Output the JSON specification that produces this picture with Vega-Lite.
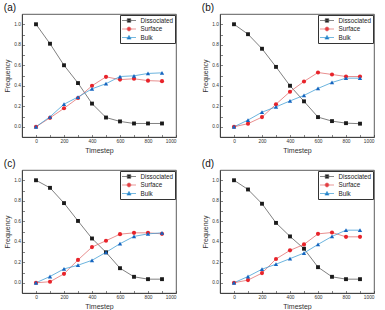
{
  "$schema": "https://vega.github.io/schema/vega-lite/v6.json",
  "padding": {"left": 3, "top": 2, "right": 0, "bottom": 0},
  "data": {"values": [
    {"p":"a","s":"Dissociated","t":0,"v":1.0},{"p":"a","s":"Dissociated","t":100,"v":0.81},{"p":"a","s":"Dissociated","t":200,"v":0.60},{"p":"a","s":"Dissociated","t":300,"v":0.426},{"p":"a","s":"Dissociated","t":400,"v":0.226},{"p":"a","s":"Dissociated","t":500,"v":0.09},{"p":"a","s":"Dissociated","t":600,"v":0.052},{"p":"a","s":"Dissociated","t":700,"v":0.032},{"p":"a","s":"Dissociated","t":800,"v":0.032},{"p":"a","s":"Dissociated","t":900,"v":0.032},
    {"p":"a","s":"Surface","t":0,"v":0.0},{"p":"a","s":"Surface","t":100,"v":0.087},{"p":"a","s":"Surface","t":200,"v":0.18},{"p":"a","s":"Surface","t":300,"v":0.28},{"p":"a","s":"Surface","t":400,"v":0.40},{"p":"a","s":"Surface","t":500,"v":0.487},{"p":"a","s":"Surface","t":600,"v":0.46},{"p":"a","s":"Surface","t":700,"v":0.468},{"p":"a","s":"Surface","t":800,"v":0.45},{"p":"a","s":"Surface","t":900,"v":0.445},
    {"p":"a","s":"Bulk","t":0,"v":0.0},{"p":"a","s":"Bulk","t":100,"v":0.097},{"p":"a","s":"Bulk","t":200,"v":0.22},{"p":"a","s":"Bulk","t":300,"v":0.29},{"p":"a","s":"Bulk","t":400,"v":0.37},{"p":"a","s":"Bulk","t":500,"v":0.42},{"p":"a","s":"Bulk","t":600,"v":0.49},{"p":"a","s":"Bulk","t":700,"v":0.497},{"p":"a","s":"Bulk","t":800,"v":0.52},{"p":"a","s":"Bulk","t":900,"v":0.526},
    {"p":"b","s":"Dissociated","t":0,"v":1.0},{"p":"b","s":"Dissociated","t":100,"v":0.903},{"p":"b","s":"Dissociated","t":200,"v":0.761},{"p":"b","s":"Dissociated","t":300,"v":0.584},{"p":"b","s":"Dissociated","t":400,"v":0.40},{"p":"b","s":"Dissociated","t":500,"v":0.248},{"p":"b","s":"Dissociated","t":600,"v":0.094},{"p":"b","s":"Dissociated","t":700,"v":0.055},{"p":"b","s":"Dissociated","t":800,"v":0.035},{"p":"b","s":"Dissociated","t":900,"v":0.03},
    {"p":"b","s":"Surface","t":0,"v":0.0},{"p":"b","s":"Surface","t":100,"v":0.03},{"p":"b","s":"Surface","t":200,"v":0.094},{"p":"b","s":"Surface","t":300,"v":0.22},{"p":"b","s":"Surface","t":400,"v":0.342},{"p":"b","s":"Surface","t":500,"v":0.442},{"p":"b","s":"Surface","t":600,"v":0.529},{"p":"b","s":"Surface","t":700,"v":0.51},{"p":"b","s":"Surface","t":800,"v":0.49},{"p":"b","s":"Surface","t":900,"v":0.49},
    {"p":"b","s":"Bulk","t":0,"v":0.0},{"p":"b","s":"Bulk","t":100,"v":0.065},{"p":"b","s":"Bulk","t":200,"v":0.142},{"p":"b","s":"Bulk","t":300,"v":0.194},{"p":"b","s":"Bulk","t":400,"v":0.252},{"p":"b","s":"Bulk","t":500,"v":0.306},{"p":"b","s":"Bulk","t":600,"v":0.374},{"p":"b","s":"Bulk","t":700,"v":0.432},{"p":"b","s":"Bulk","t":800,"v":0.474},{"p":"b","s":"Bulk","t":900,"v":0.474},
    {"p":"c","s":"Dissociated","t":0,"v":1.0},{"p":"c","s":"Dissociated","t":100,"v":0.926},{"p":"c","s":"Dissociated","t":200,"v":0.777},{"p":"c","s":"Dissociated","t":300,"v":0.603},{"p":"c","s":"Dissociated","t":400,"v":0.432},{"p":"c","s":"Dissociated","t":500,"v":0.297},{"p":"c","s":"Dissociated","t":600,"v":0.142},{"p":"c","s":"Dissociated","t":700,"v":0.058},{"p":"c","s":"Dissociated","t":800,"v":0.035},{"p":"c","s":"Dissociated","t":900,"v":0.035},
    {"p":"c","s":"Surface","t":0,"v":0.0},{"p":"c","s":"Surface","t":100,"v":0.01},{"p":"c","s":"Surface","t":200,"v":0.087},{"p":"c","s":"Surface","t":300,"v":0.223},{"p":"c","s":"Surface","t":400,"v":0.348},{"p":"c","s":"Surface","t":500,"v":0.41},{"p":"c","s":"Surface","t":600,"v":0.474},{"p":"c","s":"Surface","t":700,"v":0.487},{"p":"c","s":"Surface","t":800,"v":0.487},{"p":"c","s":"Surface","t":900,"v":0.477},
    {"p":"c","s":"Bulk","t":0,"v":0.0},{"p":"c","s":"Bulk","t":100,"v":0.061},{"p":"c","s":"Bulk","t":200,"v":0.135},{"p":"c","s":"Bulk","t":300,"v":0.171},{"p":"c","s":"Bulk","t":400,"v":0.219},{"p":"c","s":"Bulk","t":500,"v":0.297},{"p":"c","s":"Bulk","t":600,"v":0.381},{"p":"c","s":"Bulk","t":700,"v":0.452},{"p":"c","s":"Bulk","t":800,"v":0.477},{"p":"c","s":"Bulk","t":900,"v":0.487},
    {"p":"d","s":"Dissociated","t":0,"v":1.0},{"p":"d","s":"Dissociated","t":100,"v":0.91},{"p":"d","s":"Dissociated","t":200,"v":0.771},{"p":"d","s":"Dissociated","t":300,"v":0.584},{"p":"d","s":"Dissociated","t":400,"v":0.452},{"p":"d","s":"Dissociated","t":500,"v":0.332},{"p":"d","s":"Dissociated","t":600,"v":0.152},{"p":"d","s":"Dissociated","t":700,"v":0.058},{"p":"d","s":"Dissociated","t":800,"v":0.035},{"p":"d","s":"Dissociated","t":900,"v":0.035},
    {"p":"d","s":"Surface","t":0,"v":0.0},{"p":"d","s":"Surface","t":100,"v":0.026},{"p":"d","s":"Surface","t":200,"v":0.094},{"p":"d","s":"Surface","t":300,"v":0.232},{"p":"d","s":"Surface","t":400,"v":0.316},{"p":"d","s":"Surface","t":500,"v":0.374},{"p":"d","s":"Surface","t":600,"v":0.477},{"p":"d","s":"Surface","t":700,"v":0.49},{"p":"d","s":"Surface","t":800,"v":0.448},{"p":"d","s":"Surface","t":900,"v":0.448},
    {"p":"d","s":"Bulk","t":0,"v":0.0},{"p":"d","s":"Bulk","t":100,"v":0.061},{"p":"d","s":"Bulk","t":200,"v":0.132},{"p":"d","s":"Bulk","t":300,"v":0.181},{"p":"d","s":"Bulk","t":400,"v":0.235},{"p":"d","s":"Bulk","t":500,"v":0.29},{"p":"d","s":"Bulk","t":600,"v":0.374},{"p":"d","s":"Bulk","t":700,"v":0.452},{"p":"d","s":"Bulk","t":800,"v":0.513},{"p":"d","s":"Bulk","t":900,"v":0.513}
  ]},
  "columns": 2,
  "spacing": {"row": 4, "column": 24},
  "resolve": {"legend": {"stroke": "independent"}},
  "concat": [
    {"title": "(a)", "width": 154, "height": 123, "transform": [{"filter": "datum.p == 'a'"}],
     "encoding": {
       "x": {"field": "t", "type": "quantitative", "scale": {"domain": [-100, 1000], "nice": false, "zero": false}, "axis": {"title": "Timestep", "values": [0,100,200,300,400,500,600,700,800,900,1000], "format": "d", "labelExpr": "datum.value % 200 == 0 ? datum.label : ''"}},
       "y": {"field": "v", "type": "quantitative", "scale": {"domain": [-0.1, 1.1], "nice": false, "zero": false}, "axis": {"title": "Frequency", "values": [0,0.1,0.2,0.3,0.4,0.5,0.6,0.7,0.8,0.9,1.0], "format": ".1f", "labelExpr": "round(datum.value*10) % 2 == 0 ? datum.label : ''"}}
     },
     "layer": [
       {"mark": {"type": "line", "strokeWidth": 0.75}, "encoding": {"stroke": {"field": "s", "type": "nominal", "scale": {"domain": ["Dissociated","Surface","Bulk"], "range": ["#555555","#e06a6a","#3b9bd3"]},
         "legend": {"title": null, "orient": "top-right", "offset": 1,
           "encode": {"symbols": {"update": {
             "shape": {"signal": "datum.value == 'Dissociated' ? 'M-2,0H2M-0.5,-0.5H0.5V0.5H-0.5Z' : datum.value == 'Surface' ? 'M-2,0H2M0.55,0A0.55,0.55 0 1 1 -0.55,0A0.55,0.55 0 1 1 0.55,0Z' : 'M-2,0H2M0,-0.6L0.6,0.45H-0.6Z'"},
             "fill": {"signal": "datum.value == 'Dissociated' ? '#1a1a1a' : datum.value == 'Surface' ? '#e8232a' : '#1565c0'"}}}}}}}},
       {"transform": [{"filter": "datum.s == 'Dissociated'"}], "mark": {"type": "point", "shape": "square", "filled": true, "size": 15, "color": "#1a1a1a", "opacity": 1}},
       {"transform": [{"filter": "datum.s == 'Surface'"}], "mark": {"type": "point", "shape": "circle", "filled": true, "size": 17, "color": "#e8232a", "opacity": 1}},
       {"transform": [{"filter": "datum.s == 'Bulk'"}], "mark": {"type": "point", "shape": "triangle-up", "filled": true, "size": 19, "color": "#1565c0", "opacity": 1}}
     ]},
    {"title": "(b)", "width": 154, "height": 123, "transform": [{"filter": "datum.p == 'b'"}],
     "encoding": {
       "x": {"field": "t", "type": "quantitative", "scale": {"domain": [-100, 1000], "nice": false, "zero": false}, "axis": {"title": "Timestep", "values": [0,100,200,300,400,500,600,700,800,900,1000], "format": "d", "labelExpr": "datum.value % 200 == 0 ? datum.label : ''"}},
       "y": {"field": "v", "type": "quantitative", "scale": {"domain": [-0.1, 1.1], "nice": false, "zero": false}, "axis": {"title": "Frequency", "values": [0,0.1,0.2,0.3,0.4,0.5,0.6,0.7,0.8,0.9,1.0], "format": ".1f", "labelExpr": "round(datum.value*10) % 2 == 0 ? datum.label : ''"}}
     },
     "layer": [
       {"mark": {"type": "line", "strokeWidth": 0.75}, "encoding": {"stroke": {"field": "s", "type": "nominal", "scale": {"domain": ["Dissociated","Surface","Bulk"], "range": ["#555555","#e06a6a","#3b9bd3"]},
         "legend": {"title": null, "orient": "top-right", "offset": 1,
           "encode": {"symbols": {"update": {
             "shape": {"signal": "datum.value == 'Dissociated' ? 'M-2,0H2M-0.5,-0.5H0.5V0.5H-0.5Z' : datum.value == 'Surface' ? 'M-2,0H2M0.55,0A0.55,0.55 0 1 1 -0.55,0A0.55,0.55 0 1 1 0.55,0Z' : 'M-2,0H2M0,-0.6L0.6,0.45H-0.6Z'"},
             "fill": {"signal": "datum.value == 'Dissociated' ? '#1a1a1a' : datum.value == 'Surface' ? '#e8232a' : '#1565c0'"}}}}}}}},
       {"transform": [{"filter": "datum.s == 'Dissociated'"}], "mark": {"type": "point", "shape": "square", "filled": true, "size": 15, "color": "#1a1a1a", "opacity": 1}},
       {"transform": [{"filter": "datum.s == 'Surface'"}], "mark": {"type": "point", "shape": "circle", "filled": true, "size": 17, "color": "#e8232a", "opacity": 1}},
       {"transform": [{"filter": "datum.s == 'Bulk'"}], "mark": {"type": "point", "shape": "triangle-up", "filled": true, "size": 19, "color": "#1565c0", "opacity": 1}}
     ]},
    {"title": "(c)", "width": 154, "height": 123, "transform": [{"filter": "datum.p == 'c'"}],
     "encoding": {
       "x": {"field": "t", "type": "quantitative", "scale": {"domain": [-100, 1000], "nice": false, "zero": false}, "axis": {"title": "Timestep", "values": [0,100,200,300,400,500,600,700,800,900,1000], "format": "d", "labelExpr": "datum.value % 200 == 0 ? datum.label : ''"}},
       "y": {"field": "v", "type": "quantitative", "scale": {"domain": [-0.1, 1.1], "nice": false, "zero": false}, "axis": {"title": "Frequency", "values": [0,0.1,0.2,0.3,0.4,0.5,0.6,0.7,0.8,0.9,1.0], "format": ".1f", "labelExpr": "round(datum.value*10) % 2 == 0 ? datum.label : ''"}}
     },
     "layer": [
       {"mark": {"type": "line", "strokeWidth": 0.75}, "encoding": {"stroke": {"field": "s", "type": "nominal", "scale": {"domain": ["Dissociated","Surface","Bulk"], "range": ["#555555","#e06a6a","#3b9bd3"]},
         "legend": {"title": null, "orient": "top-right", "offset": 1,
           "encode": {"symbols": {"update": {
             "shape": {"signal": "datum.value == 'Dissociated' ? 'M-2,0H2M-0.5,-0.5H0.5V0.5H-0.5Z' : datum.value == 'Surface' ? 'M-2,0H2M0.55,0A0.55,0.55 0 1 1 -0.55,0A0.55,0.55 0 1 1 0.55,0Z' : 'M-2,0H2M0,-0.6L0.6,0.45H-0.6Z'"},
             "fill": {"signal": "datum.value == 'Dissociated' ? '#1a1a1a' : datum.value == 'Surface' ? '#e8232a' : '#1565c0'"}}}}}}}},
       {"transform": [{"filter": "datum.s == 'Dissociated'"}], "mark": {"type": "point", "shape": "square", "filled": true, "size": 15, "color": "#1a1a1a", "opacity": 1}},
       {"transform": [{"filter": "datum.s == 'Surface'"}], "mark": {"type": "point", "shape": "circle", "filled": true, "size": 17, "color": "#e8232a", "opacity": 1}},
       {"transform": [{"filter": "datum.s == 'Bulk'"}], "mark": {"type": "point", "shape": "triangle-up", "filled": true, "size": 19, "color": "#1565c0", "opacity": 1}}
     ]},
    {"title": "(d)", "width": 154, "height": 123, "transform": [{"filter": "datum.p == 'd'"}],
     "encoding": {
       "x": {"field": "t", "type": "quantitative", "scale": {"domain": [-100, 1000], "nice": false, "zero": false}, "axis": {"title": "Timestep", "values": [0,100,200,300,400,500,600,700,800,900,1000], "format": "d", "labelExpr": "datum.value % 200 == 0 ? datum.label : ''"}},
       "y": {"field": "v", "type": "quantitative", "scale": {"domain": [-0.1, 1.1], "nice": false, "zero": false}, "axis": {"title": "Frequency", "values": [0,0.1,0.2,0.3,0.4,0.5,0.6,0.7,0.8,0.9,1.0], "format": ".1f", "labelExpr": "round(datum.value*10) % 2 == 0 ? datum.label : ''"}}
     },
     "layer": [
       {"mark": {"type": "line", "strokeWidth": 0.75}, "encoding": {"stroke": {"field": "s", "type": "nominal", "scale": {"domain": ["Dissociated","Surface","Bulk"], "range": ["#555555","#e06a6a","#3b9bd3"]},
         "legend": {"title": null, "orient": "top-right", "offset": 1,
           "encode": {"symbols": {"update": {
             "shape": {"signal": "datum.value == 'Dissociated' ? 'M-2,0H2M-0.5,-0.5H0.5V0.5H-0.5Z' : datum.value == 'Surface' ? 'M-2,0H2M0.55,0A0.55,0.55 0 1 1 -0.55,0A0.55,0.55 0 1 1 0.55,0Z' : 'M-2,0H2M0,-0.6L0.6,0.45H-0.6Z'"},
             "fill": {"signal": "datum.value == 'Dissociated' ? '#1a1a1a' : datum.value == 'Surface' ? '#e8232a' : '#1565c0'"}}}}}}}},
       {"transform": [{"filter": "datum.s == 'Dissociated'"}], "mark": {"type": "point", "shape": "square", "filled": true, "size": 15, "color": "#1a1a1a", "opacity": 1}},
       {"transform": [{"filter": "datum.s == 'Surface'"}], "mark": {"type": "point", "shape": "circle", "filled": true, "size": 17, "color": "#e8232a", "opacity": 1}},
       {"transform": [{"filter": "datum.s == 'Bulk'"}], "mark": {"type": "point", "shape": "triangle-up", "filled": true, "size": 19, "color": "#1565c0", "opacity": 1}}
     ]}
  ],
  "config": {
    "font": "Liberation Sans",
    "view": {"stroke": "#333333", "strokeWidth": 0.8},
    "axis": {"grid": false, "domainColor": "#333333", "domainWidth": 0.8, "tickColor": "#333333", "tickWidth": 0.6, "tickSize": -2.5, "labelFontSize": 4.8, "labelColor": "#333333", "labelPadding": 4, "titleFontSize": 7, "titleFontWeight": "normal", "titleColor": "#333333", "titlePadding": 3},
    "title": {"fontSize": 10, "fontWeight": "normal", "anchor": "start", "frame": "bounds", "offset": 1, "color": "#111111"},
    "legend": {"strokeColor": "#333333", "fillColor": "white", "padding": 1.5, "labelFontSize": 6.3, "labelColor": "#222222", "symbolSize": 49, "symbolOffset": 3.5, "symbolStrokeWidth": 0.7, "rowPadding": 0.5, "labelOffset": 7.5, "cornerRadius": 0}
  }
}
